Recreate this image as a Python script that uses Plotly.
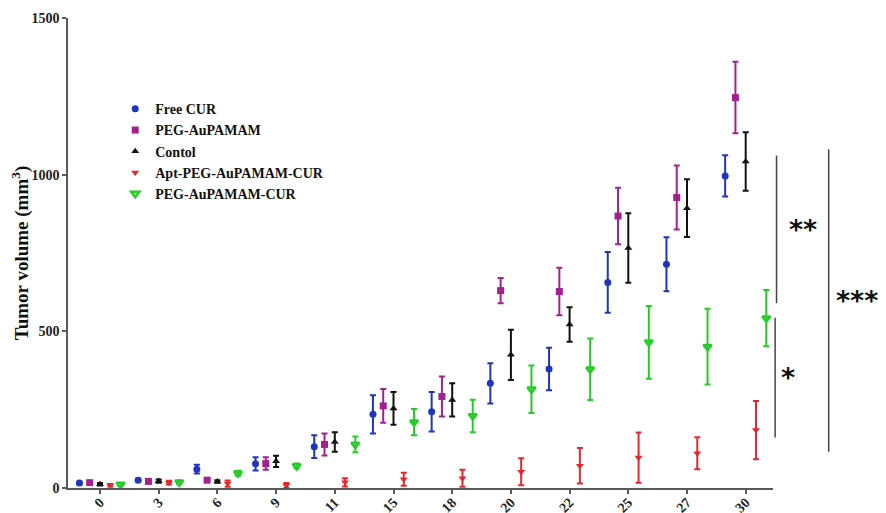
import plotly.graph_objects as go

# ---------------- data ----------------
days = ["0", "3", "6", "9", "11", "15", "18", "20", "22", "25", "27", "30"]

free_cur = [16, 25, 60, 77, 132, 235, 243, 334, 380, 656, 714, 996]
free_cur_err = [5, 5, 14, 21, 36, 61, 63, 64, 68, 97, 86, 66]

peg_aupamam = [17, 21, 25, 78, 139, 262, 292, 630, 627, 868, 927, 1246]
peg_aupamam_err = [4, 4, 4, 20, 35, 54, 64, 40, 76, 90, 102, 114]

control = [12, 22, 21, 85, 147, 254, 281, 425, 522, 766, 893, 1042]
control_err = [4, 5, 4, 18, 31, 52, 53, 80, 55, 111, 92, 93]

apt_peg_cur = [9, 17, 14, 8, 18, 28, 31, 52, 71, 97, 111, 185]
apt_peg_cur_err = [4, 6, 10, 8, 13, 21, 27, 43, 57, 80, 51, 93]

peg_cur = [11, 18, 47, 70, 139, 210, 230, 315, 379, 465, 451, 542]
peg_cur_err = [5, 5, 8, 8, 25, 42, 52, 76, 98, 116, 121, 90]

series_names = ["Free CUR", "PEG-AuPAMAM", "Contol", "Apt-PEG-AuPAMAM-CUR", "PEG-AuPAMAM-CUR"]
series_vals = [free_cur, peg_aupamam, control, apt_peg_cur, peg_cur]
series_errs = [free_cur_err, peg_aupamam_err, control_err, apt_peg_cur_err, peg_cur_err]

# significance brackets: (low value, high value, label)
sig_brackets = [(590, 1061, "**"), (161, 543, "*"), (116, 1081, "***")]

# ---------------- style ----------------
colors = ["#2034c0", "#a4208f", "#111111", "#e5262b", "#26cc26"]
symbols = ["circle", "square", "triangle-up", "triangle-down", "triangle-down-open"]
sizes = [7, 7, 7, 7, 7]
offsets = [-0.35, -0.175, 0.0, 0.175, 0.35]

serif = "Liberation Serif"
axis_col = "#5a5a5a"

fig = go.Figure()
for name, vals, errs, col, sym, sz, off in zip(series_names, series_vals, series_errs,
                                                 colors, symbols, sizes, offsets):
    xs = [i + off for i in range(len(days))]
    fig.add_trace(go.Scatter(
        x=xs, y=vals, name=name, mode="markers",
        marker=dict(color=col, symbol=sym, size=sz,
                    line=dict(color=col, width=2.5 if "open" in sym else 0)),
        error_y=dict(type="data", array=errs, visible=True, color=col,
                     thickness=2, width=3),
        cliponaxis=False,
    ))

# significance brackets (drawn outside the plotting area, right side)
y_max = 1500.0
line_x = [1.005, 1.003, 1.079]
text_x = [1.043, 1.021, 1.119]
for (lo, hi, lab), lx, tx in zip(sig_brackets, line_x, text_x):
    fig.add_shape(type="line", xref="paper", yref="paper",
                  x0=lx, x1=lx, y0=lo / y_max, y1=hi / y_max,
                  line=dict(color="#444444", width=1.5))
    fig.add_annotation(xref="paper", yref="paper", x=tx, y=(lo + hi) / 2 / y_max,
                       text=lab, showarrow=False,
                       font=dict(family="DejaVu Sans", size=27, color="#111111",
                                 weight="bold"),
                       xanchor="center", yanchor="middle")

fig.update_layout(
    width=886, height=513,
    margin=dict(l=60, r=121, t=10, b=33),
    paper_bgcolor="white", plot_bgcolor="white",
    showlegend=True,
    legend=dict(x=0.067, y=0.84, xanchor="left", yanchor="top",
                bgcolor="rgba(0,0,0,0)",
                font=dict(family=serif, size=14, color="#111111", weight="bold"),
                itemsizing="trace", tracegroupgap=0),
    xaxis=dict(
        range=[-0.545, 11.465],
        tickmode="array", tickvals=list(range(len(days))), ticktext=days,
        tickangle=-45,
        showgrid=False, zeroline=False,
        showline=True, linecolor=axis_col, linewidth=1.5,
        ticks="outside", ticklen=4, tickcolor=axis_col, tickwidth=1.5,
        tickfont=dict(family=serif, size=14, color="#222222", weight="bold"),
        ticklabelstandoff=-5,
        automargin=False,
    ),
    yaxis=dict(
        range=[0, 1500],
        tickvals=[0, 500, 1000, 1500],
        showgrid=False, zeroline=False,
        showline=True, linecolor=axis_col, linewidth=1.5,
        ticks="outside", ticklen=4, tickcolor=axis_col, tickwidth=1.5,
        tickfont=dict(family=serif, size=14, color="#222222", weight="bold"),
        title=dict(text="Tumor volume (mm<sup>3</sup>)",
                   font=dict(family=serif, size=19, color="#111111", weight="bold"),
                   standoff=5),
        automargin=False,
    ),
)

fig.write_html("out.html")
